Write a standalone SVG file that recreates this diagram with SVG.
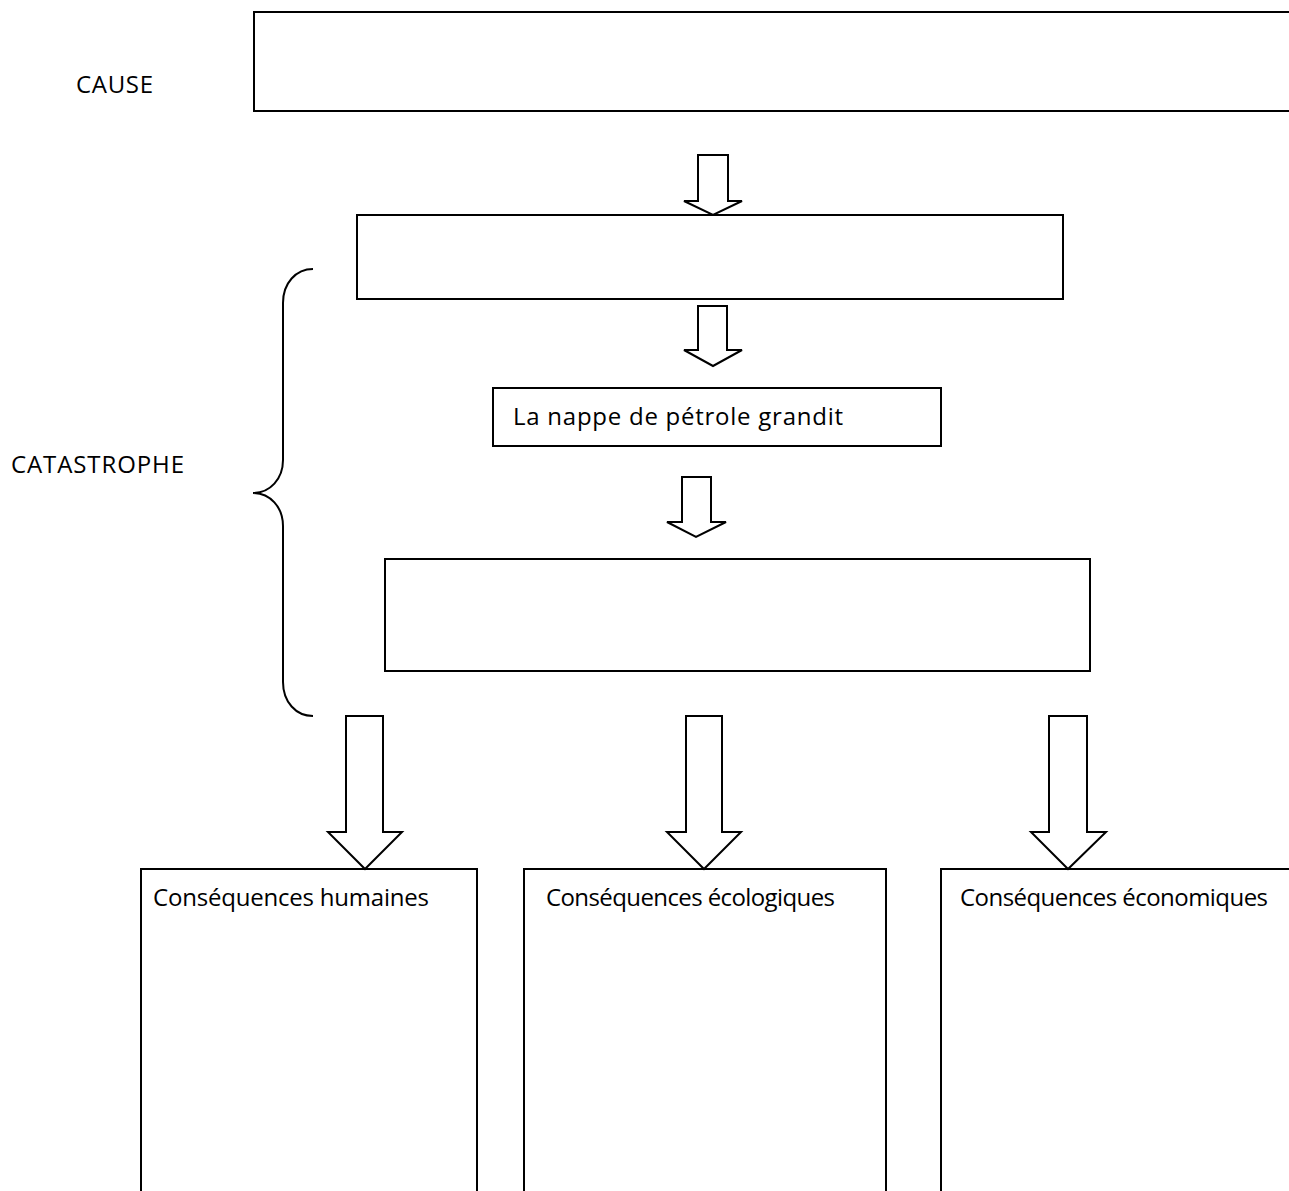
<svg xmlns="http://www.w3.org/2000/svg" width="1289" height="1191" viewBox="0 0 1289 1191">
<style>
.box{fill:#fff;stroke:#000;stroke-width:2}
.arr{fill:#fff;stroke:#000;stroke-width:2;stroke-linejoin:miter}
.lbl{font-family:"Open Sans","Liberation Sans",sans-serif;font-size:24px;fill:#000}
.brace{fill:none;stroke:#000;stroke-width:2}
</style>
<rect width="1289" height="1191" fill="#fff"/>
<g id="label-cause"><text class="lbl" x="76" y="93" textLength="77">CAUSE</text></g>
<g id="label-catastrophe"><text class="lbl" x="11" y="473" textLength="173">CATASTROPHE</text></g>
<g id="brace"><path class="brace" d="M313,269 C296,269 283,283 283,303 L283,460 C283,479 270,493 253,493 C270,493 283,507 283,526 L283,682 C283,702 296,716 313,716"/></g>
<g id="node-cause"><rect class="box" x="254" y="12" width="1100" height="99"/></g>
<g id="node-2"><rect class="box" x="357" y="215" width="706" height="84"/></g>
<g id="node-3"><rect class="box" x="493" y="388" width="448" height="58"/><text class="lbl" x="513" y="425" textLength="330">La nappe de pétrole grandit</text></g>
<g id="node-4"><rect class="box" x="385" y="559" width="705" height="112"/></g>
<g id="node-humaines"><rect class="box" x="141" y="869" width="336" height="400"/><text class="lbl" x="153" y="906" textLength="276">Conséquences humaines</text></g>
<g id="node-ecologiques"><rect class="box" x="524" y="869" width="362" height="400"/><text class="lbl" x="546" y="906" textLength="289">Conséquences écologiques</text></g>
<g id="node-economiques"><rect class="box" x="941" y="869" width="400" height="400"/><text class="lbl" x="960" y="906" textLength="308">Conséquences économiques</text></g>
<g id="connectors">
<path class="arr" d="M698,155 H728 V201 H742 L713,215 L684,201 H698 Z"/>
<path class="arr" d="M698,306 H727 V350 H742 L713,366 L684,350 H698 Z"/>
<path class="arr" d="M682,477 H711 V522 H726 L696,537 L667,522 H682 Z"/>
<path class="arr" d="M346,716 H383 V832 H402 L365,869 L328,832 H346 Z"/>
<path class="arr" d="M686,716 H722 V832 H741 L704,869 L667,832 H686 Z"/>
<path class="arr" d="M1049,716 H1087 V832 H1106 L1068,869 L1031,832 H1049 Z"/>
</g>
</svg>
